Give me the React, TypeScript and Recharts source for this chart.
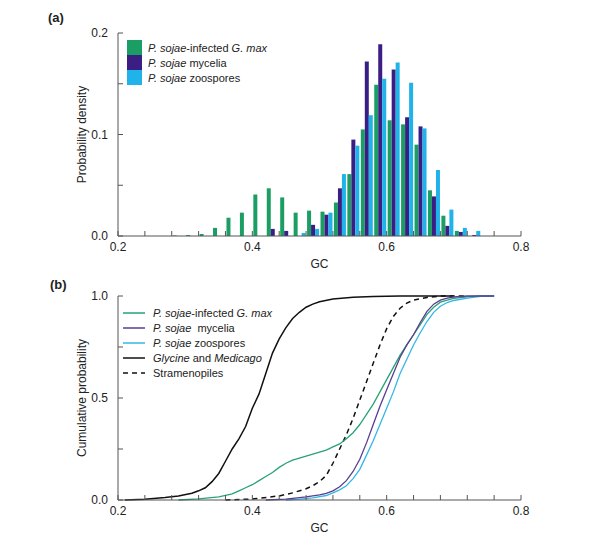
import { BarChart, Bar, LineChart, Line, XAxis, YAxis, Legend } from "recharts";

const FONT = "'Liberation Sans', Arial, sans-serif";
const AXIS = "#555";
const INK = "#222";

// (a) histogram, bin centres and fraction of genes per 0.02 GC bin
const binCenters = [0.29, 0.31, 0.33, 0.35, 0.37, 0.39, 0.41, 0.43, 0.45, 0.47, 0.49, 0.51, 0.53, 0.55, 0.57, 0.59, 0.61, 0.63, 0.65, 0.67, 0.69, 0.71, 0.73];
const infectedHist = [0.0005, 0.001, 0.002, 0.008, 0.018, 0.023, 0.041, 0.047, 0.038, 0.023, 0.025, 0.024, 0.033, 0.061, 0.105, 0.149, 0.114, 0.11, 0.09, 0.045, 0.02, 0.005, 0];
const myceliaHist = [0, 0, 0, 0, 0, 0, 0, 0.007, 0.005, 0, 0.011, 0.021, 0.047, 0.095, 0.172, 0.189, 0.164, 0.117, 0.108, 0.039, 0.01, 0.004, 0.001];
const zoosporeHist = [0, 0, 0, 0, 0, 0, 0, 0, 0, 0.003, 0.007, 0.023, 0.061, 0.089, 0.119, 0.155, 0.171, 0.151, 0.106, 0.065, 0.026, 0.008, 0.005];

// (b) cumulative curves
const infectedGC = [0.29, 0.32, 0.35, 0.37, 0.38, 0.39, 0.4, 0.41, 0.42, 0.43, 0.44, 0.45, 0.46, 0.47, 0.48, 0.49, 0.5, 0.51, 0.52, 0.53, 0.54, 0.55, 0.56, 0.57, 0.58, 0.59, 0.6, 0.61, 0.62, 0.63, 0.64, 0.65, 0.66, 0.67, 0.68, 0.69, 0.7, 0.72, 0.74, 0.76];
const infectedCum = [0, 0.006, 0.015, 0.03, 0.045, 0.06, 0.075, 0.095, 0.115, 0.135, 0.16, 0.18, 0.195, 0.205, 0.215, 0.225, 0.235, 0.245, 0.26, 0.275, 0.3, 0.33, 0.37, 0.42, 0.47, 0.53, 0.59, 0.65, 0.71, 0.76, 0.81, 0.86, 0.91, 0.945, 0.97, 0.98, 0.988, 0.996, 1, 1];
const myceliaGC = [0.42, 0.45, 0.48, 0.5, 0.51, 0.52, 0.53, 0.54, 0.55, 0.56, 0.57, 0.58, 0.59, 0.6, 0.61, 0.62, 0.63, 0.64, 0.65, 0.66, 0.67, 0.68, 0.69, 0.7, 0.72, 0.76];
const myceliaCum = [0, 0.004, 0.015, 0.025, 0.033, 0.045, 0.065, 0.095, 0.14, 0.2, 0.28, 0.37, 0.46, 0.54, 0.62, 0.7, 0.76, 0.81, 0.87, 0.925, 0.96, 0.98, 0.99, 0.995, 1, 1];
const zoosporeGC = [0.45, 0.47, 0.49, 0.51, 0.52, 0.53, 0.54, 0.55, 0.56, 0.57, 0.58, 0.59, 0.6, 0.61, 0.62, 0.63, 0.64, 0.65, 0.66, 0.67, 0.68, 0.69, 0.7, 0.72, 0.74, 0.76];
const zoosporeCum = [0, 0.004, 0.01, 0.022, 0.035, 0.05, 0.07, 0.105, 0.15, 0.22, 0.29, 0.37, 0.45, 0.53, 0.62, 0.69, 0.76, 0.82, 0.875, 0.92, 0.95, 0.968, 0.978, 0.99, 0.998, 1];
const glycineGC = [0.21, 0.24, 0.27, 0.29, 0.31, 0.32, 0.33, 0.34, 0.35, 0.36, 0.37, 0.38, 0.39, 0.4, 0.41, 0.42, 0.43, 0.44, 0.45, 0.46, 0.47, 0.48, 0.49, 0.5, 0.52, 0.55, 0.58, 0.62, 0.7];
const glycineCum = [0, 0.004, 0.012, 0.02, 0.033, 0.045, 0.06, 0.09, 0.13, 0.19, 0.25, 0.3, 0.36, 0.45, 0.52, 0.62, 0.72, 0.79, 0.845, 0.89, 0.92, 0.945, 0.96, 0.972, 0.985, 0.994, 0.998, 1, 1];
const stramGC = [0.36, 0.4, 0.44, 0.46, 0.48, 0.49, 0.5, 0.51, 0.52, 0.53, 0.54, 0.55, 0.56, 0.57, 0.58, 0.59, 0.6, 0.61, 0.62, 0.63, 0.64, 0.66, 0.68, 0.72];
const stramCum = [0, 0.005, 0.02, 0.035, 0.055, 0.07, 0.09, 0.12, 0.18, 0.25, 0.32, 0.4, 0.49, 0.58, 0.67, 0.76, 0.84, 0.9, 0.94, 0.965, 0.98, 0.993, 1, 1];

const gcTicks = [0.2, 0.24, 0.28, 0.32, 0.36, 0.4, 0.44, 0.48, 0.52, 0.56, 0.6, 0.64, 0.68, 0.72, 0.76, 0.8];
const densityTicks = [0, 0.05, 0.1, 0.15, 0.2];
const cumTicks = [0, 0.25, 0.5, 0.75, 1];

const GREEN = "#1b9e63";
const PURPLE = "#3b1e84";
const CYAN = "#1fb3ea";

const histData = binCenters.map((gc, i) => ({
  gc,
  infected: infectedHist[i],
  mycelia: myceliaHist[i],
  zoospores: zoosporeHist[i],
}));

const toPoints = (xs: number[], ys: number[]) => xs.map((gc, i) => ({ gc, p: ys[i] }));

// label only the "round" ticks
const onStep = (v: number, step: number) => Math.abs(v / step - Math.round(v / step)) < 1e-6;
const fmtGC = (v: number) => (onStep(v, 0.2) ? v.toFixed(1) : "");
const fmtDensity = (v: number) => (onStep(v, 0.1) ? v.toFixed(1) : "");
const fmtCum = (v: number) => (onStep(v, 0.5) ? v.toFixed(1) : "");
const blank = () => "";

const tickStyle = { fontSize: 12, fill: INK, fontFamily: FONT };
const lineStyle = { stroke: AXIS };

const sojae = <i>P. sojae</i>;
const legendA = [
  { color: GREEN, label: <>{sojae}-infected <i>G. max</i></> },
  { color: PURPLE, label: <>{sojae} mycelia</> },
  { color: CYAN, label: <>{sojae} zoospores</> },
];
const legendB = [
  { color: "#27a374", dash: undefined, label: <>{sojae}-infected <i>G. max</i></> },
  { color: "#5a3d92", dash: undefined, label: <>{sojae}&nbsp; mycelia</> },
  { color: "#35b7e4", dash: undefined, label: <>{sojae} zoospores</> },
  { color: "#111", dash: undefined, label: <><i>Glycine</i> and <i>Medicago</i></> },
  { color: "#111", dash: "5 4", label: <>Stramenopiles</> },
];

function HistLegend() {
  return (
    <div style={{ fontFamily: FONT, fontSize: 11, color: INK }}>
      {legendA.map((r, i) => (
        <div key={i} style={{ display: "flex", alignItems: "center", height: 15 }}>
          <span style={{ width: 15, height: 15, background: r.color, display: "inline-block" }} />
          <span style={{ marginLeft: 6 }}>{r.label}</span>
        </div>
      ))}
    </div>
  );
}

function CumLegend() {
  return (
    <div style={{ fontFamily: FONT, fontSize: 11, color: INK }}>
      {legendB.map((r, i) => (
        <div key={i} style={{ display: "flex", alignItems: "center", height: 15 }}>
          <svg width={22} height={4}>
            <line x1={0} y1={2} x2={22} y2={2} stroke={r.color} strokeWidth={1.5} strokeDasharray={r.dash} />
          </svg>
          <span style={{ marginLeft: 8 }}>{r.label}</span>
        </div>
      ))}
    </div>
  );
}

const panelLabel = (text: string, top: number, left: number) => (
  <div style={{ position: "absolute", top, left, fontFamily: FONT, fontWeight: "bold", fontSize: 13, lineHeight: "14px", color: INK }}>
    {text}
  </div>
);

export default function App() {
  return (
    <div style={{ position: "absolute", left: 0, top: 0, width: 600, height: 544, background: "#fff" }}>
      {panelLabel("(a)", 11, 48)}
      {panelLabel("(b)", 278, 50)}

      <div style={{ position: "absolute", left: 0, top: 0 }}>
        <BarChart width={600} height={272} data={histData} margin={{ top: 33, right: 79, bottom: 0, left: 0 }} barGap={0} barSize={4}>
          <XAxis
            dataKey="gc"
            type="number"
            domain={[0.2, 0.8]}
            ticks={gcTicks}
            interval={0}
            tickFormatter={fmtGC}
            tickSize={-5}
            tickMargin={11}
            height={36}
            axisLine={lineStyle}
            tickLine={lineStyle}
            tick={tickStyle}
            label={{ value: "GC", position: "insideBottom", offset: 4, style: { fontSize: 12, fill: INK, fontFamily: FONT } }}
          />
          <XAxis xAxisId="top" orientation="top" type="number" domain={[0.2, 0.8]} ticks={gcTicks} interval={0} tickFormatter={blank} tickSize={-5} height={0} axisLine={lineStyle} tickLine={lineStyle} />
          <YAxis
            type="number"
            domain={[0, 0.2]}
            ticks={densityTicks}
            interval={0}
            tickFormatter={fmtDensity}
            tickSize={-5}
            tickMargin={15}
            width={118}
            axisLine={lineStyle}
            tickLine={lineStyle}
            tick={tickStyle}
            label={{ value: "Probability density", angle: -90, position: "insideLeft", offset: 82, style: { textAnchor: "middle", fontSize: 12, fill: INK, fontFamily: FONT } }}
          />
          <YAxis yAxisId="right" orientation="right" type="number" domain={[0, 0.2]} ticks={densityTicks} interval={0} tickFormatter={blank} tickSize={-5} width={0} axisLine={lineStyle} tickLine={lineStyle} />
          <Legend layout="vertical" align="center" verticalAlign="middle" wrapperStyle={{ top: 40, left: 127, width: "auto" }} content={() => <HistLegend />} />
          <Bar dataKey="infected" fill={GREEN} isAnimationActive={false} />
          <Bar dataKey="mycelia" fill={PURPLE} isAnimationActive={false} />
          <Bar dataKey="zoospores" fill={CYAN} isAnimationActive={false} />
        </BarChart>
      </div>

      <div style={{ position: "absolute", left: 0, top: 270 }}>
        <LineChart width={600} height={274} margin={{ top: 26, right: 79, bottom: 0, left: 0 }}>
          <XAxis
            dataKey="gc"
            type="number"
            domain={[0.2, 0.8]}
            ticks={gcTicks}
            interval={0}
            tickFormatter={fmtGC}
            tickSize={-5}
            tickMargin={11}
            height={44}
            allowDataOverflow
            axisLine={lineStyle}
            tickLine={lineStyle}
            tick={tickStyle}
            label={{ value: "GC", position: "insideBottom", offset: 12, style: { fontSize: 12, fill: INK, fontFamily: FONT } }}
          />
          <XAxis xAxisId="top" orientation="top" type="number" domain={[0.2, 0.8]} ticks={gcTicks} interval={0} tickFormatter={blank} tickSize={-5} height={0} axisLine={lineStyle} tickLine={lineStyle} />
          <YAxis
            type="number"
            domain={[0, 1]}
            ticks={cumTicks}
            interval={0}
            tickFormatter={fmtCum}
            tickSize={-5}
            tickMargin={15}
            width={118}
            axisLine={lineStyle}
            tickLine={lineStyle}
            tick={tickStyle}
            label={{ value: "Cumulative probability", angle: -90, position: "insideLeft", offset: 82, style: { textAnchor: "middle", fontSize: 12, fill: INK, fontFamily: FONT } }}
          />
          <YAxis yAxisId="right" orientation="right" type="number" domain={[0, 1]} ticks={cumTicks} interval={0} tickFormatter={blank} tickSize={-5} width={0} axisLine={lineStyle} tickLine={lineStyle} />
          <Legend layout="vertical" align="center" verticalAlign="middle" wrapperStyle={{ top: 35, left: 123, width: "auto" }} content={() => <CumLegend />} />
          <Line data={toPoints(glycineGC, glycineCum)} dataKey="p" stroke="#111" strokeWidth={1.5} dot={false} isAnimationActive={false} />
          <Line data={toPoints(stramGC, stramCum)} dataKey="p" stroke="#111" strokeWidth={1.5} strokeDasharray="5 4" dot={false} isAnimationActive={false} />
          <Line data={toPoints(infectedGC, infectedCum)} dataKey="p" stroke="#27a374" strokeWidth={1.3} dot={false} isAnimationActive={false} />
          <Line data={toPoints(zoosporeGC, zoosporeCum)} dataKey="p" stroke="#35b7e4" strokeWidth={1.3} dot={false} isAnimationActive={false} />
          <Line data={toPoints(myceliaGC, myceliaCum)} dataKey="p" stroke="#5a3d92" strokeWidth={1.3} dot={false} isAnimationActive={false} />
        </LineChart>
      </div>
    </div>
  );
}
